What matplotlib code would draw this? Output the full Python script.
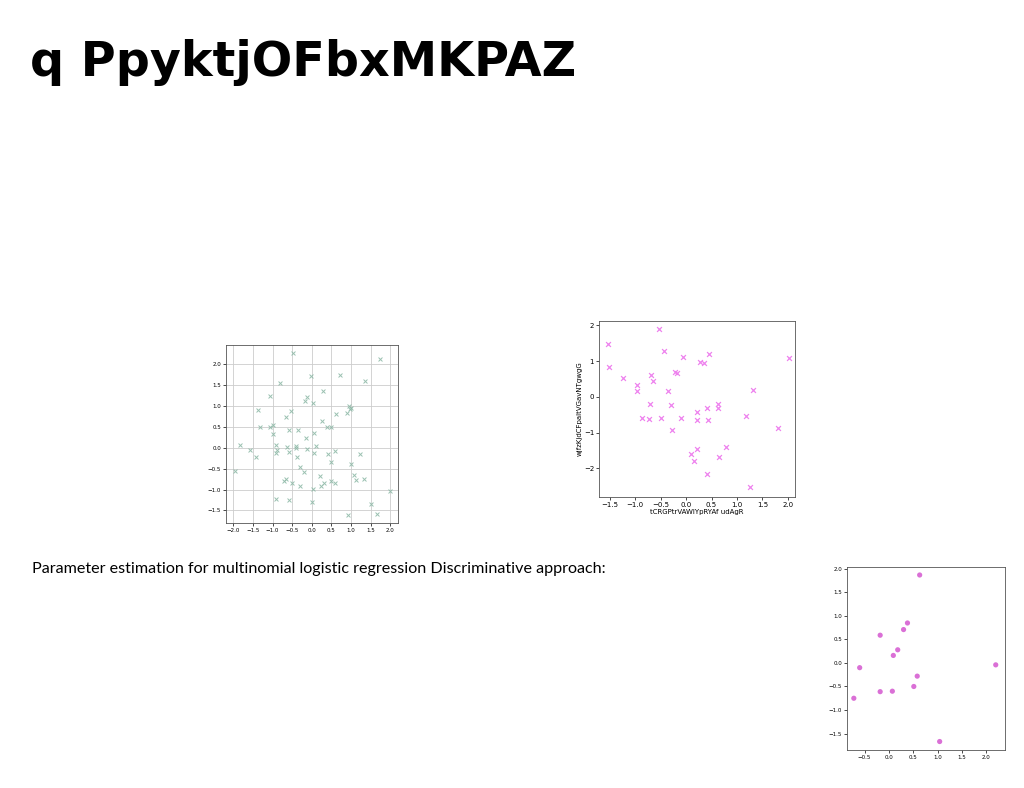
import matplotlib
matplotlib.use("Agg")
import matplotlib.pyplot as plt

# slide text
title = "q PpyktjOFbxMKPAZ"
caption = "Parameter estimation for multinomial logistic regression Discriminative approach:"

# scatter 1 (grid, grey-green crosses)
x1 = [-0.47, 1.74, -0.01, 0.72, 1.37, -0.82, 0.29, -1.07, -0.18, -0.11, 0.03, -1.37,
      -0.54, 0.94, 1.00, 0.98, 0.90, 0.61, -0.65, 0.26, -1.31, -1.07, -1.00, -1.00,
      -0.58, -0.36, 0.39, 0.48, 0.06, -0.16, -1.82, -1.59, -1.43, -0.92, -0.89, -0.91,
      -0.64, -0.57, -0.41, -0.41, -0.39, -0.11, 0.10, 0.06, 0.60, 0.42, 0.48, 1.22,
      -1.97, -0.29, -0.19, 0.99, -0.70, -0.65, -0.50, -0.30, 0.20, 0.30, 0.24, 0.49,
      0.59, 1.07, 1.12, 1.34, 0.03, 2.00, -0.92, -0.57, 0.00, 1.50, 0.92, 1.66]
y1 = [2.26, 2.12, 1.72, 1.75, 1.59, 1.55, 1.35, 1.23, 1.13, 1.21, 1.06, 0.90,
      0.87, 1.01, 0.95, 0.92, 0.84, 0.81, 0.74, 0.64, 0.50, 0.49, 0.54, 0.32,
      0.43, 0.42, 0.50, 0.50, 0.35, 0.23, 0.07, -0.05, -0.23, 0.06, -0.06, -0.13,
      0.02, -0.10, 0.04, 0.00, -0.21, -0.02, 0.05, -0.13, -0.07, -0.16, -0.35, -0.16,
      -0.56, -0.47, -0.59, -0.39, -0.80, -0.74, -0.85, -0.91, -0.68, -0.84, -0.92, -0.80,
      -0.84, -0.66, -0.77, -0.74, -0.99, -1.04, -1.22, -1.26, -1.30, -1.35, -1.61, -1.58]

# scatter 2 (violet crosses, labelled axes)
x2 = [-1.53, -1.51, -0.53, -0.44, -0.06, 0.46, 0.28, 0.35, 2.03, -1.23, -0.69, -0.64,
      -0.22, -0.18, -0.97, -0.96, -0.36, 1.32, -0.71, -0.29, 0.42, 0.63, 0.63, 0.22,
      -0.87, -0.73, -0.50, -0.09, 0.21, 0.43, -0.27, 1.17, 1.81, 0.10, 0.15, 0.22,
      0.78, 0.64, 0.41, 1.25]
y2 = [1.48, 0.84, 1.89, 1.28, 1.12, 1.19, 0.96, 0.94, 1.08, 0.52, 0.60, 0.45,
      0.70, 0.68, 0.34, 0.15, 0.15, 0.18, -0.19, -0.22, -0.30, -0.21, -0.32, -0.41,
      -0.59, -0.61, -0.58, -0.59, -0.65, -0.66, -0.92, -0.53, -0.86, -1.61, -1.80, -1.47,
      -1.41, -1.68, -2.15, -2.52]
xlabel2 = "tCRGPtrVAWlYpRYAf udAgR"
ylabel2 = "wjfzKjdCFpaItVGavNTgwgG"

# scatter 3 (orchid dots)
x3 = [0.63, 0.38, 0.30, -0.18, 0.18, 0.09, -0.60, 2.19, 0.58, 0.51, -0.18, 0.07, -0.72, 1.04]
y3 = [1.87, 0.85, 0.71, 0.59, 0.28, 0.16, -0.10, -0.04, -0.28, -0.50, -0.61, -0.60, -0.75, -1.67]

W, H = 1024, 788
fig = plt.figure(figsize=(W / 100, H / 100), dpi=100)


def px_axes(left, top, right, bottom):
    return fig.add_axes([left / W, 1 - bottom / H, (right - left) / W, (bottom - top) / H])


fig.text(30 / W, 1 - 62 / H, title, fontsize=34.3, fontweight="bold",
         family="DejaVu Sans", va="center", ha="left")
fig.text(32 / W, 1 - 569 / H, caption, fontsize=11.6, family="Lato",
         va="center", ha="left")

ax1 = px_axes(226, 345, 398, 523)
ax1.scatter(x1, y1, marker="x", s=8, linewidths=0.7, color="#8fbaa8", alpha=0.9)
ax1.set_xlim(-2.19, 2.20)
ax1.set_ylim(-1.80, 2.46)
ax1.set_xticks([-2.0, -1.5, -1.0, -0.5, 0.0, 0.5, 1.0, 1.5, 2.0])
ax1.set_yticks([-1.5, -1.0, -0.5, 0.0, 0.5, 1.0, 1.5, 2.0])
ax1.grid(True, color="#cccccc", linewidth=0.6)
ax1.set_axisbelow(True)

ax2 = px_axes(599, 321, 795, 497)
ax2.scatter(x2, y2, marker="x", s=12, linewidths=0.9, color="violet")
ax2.set_xlim(-1.71, 2.14)
ax2.set_ylim(-2.80, 2.12)
ax2.set_xticks([-1.5, -1.0, -0.5, 0.0, 0.5, 1.0, 1.5, 2.0])
ax2.set_yticks([-2, -1, 0, 1, 2])
ax2.set_xlabel(xlabel2, fontsize=5, labelpad=1)
ax2.set_ylabel(ylabel2, fontsize=5, labelpad=1)

ax3 = px_axes(847, 567, 1005, 750)
ax3.scatter(x3, y3, marker="o", s=14, color="orchid", edgecolors="none")
ax3.set_xlim(-0.86, 2.38)
ax3.set_ylim(-1.85, 2.04)
ax3.set_xticks([-0.5, 0.0, 0.5, 1.0, 1.5, 2.0])
ax3.set_yticks([-1.5, -1.0, -0.5, 0.0, 0.5, 1.0, 1.5, 2.0])

for ax in (ax1, ax2, ax3):
    ax.tick_params(labelsize=4, length=2, width=0.5, pad=1.5)
    for sp in ax.spines.values():
        sp.set_linewidth(0.6)
        sp.set_color("#555555")
ax2.tick_params(labelsize=5)

fig.savefig("out.png", dpi=100)
